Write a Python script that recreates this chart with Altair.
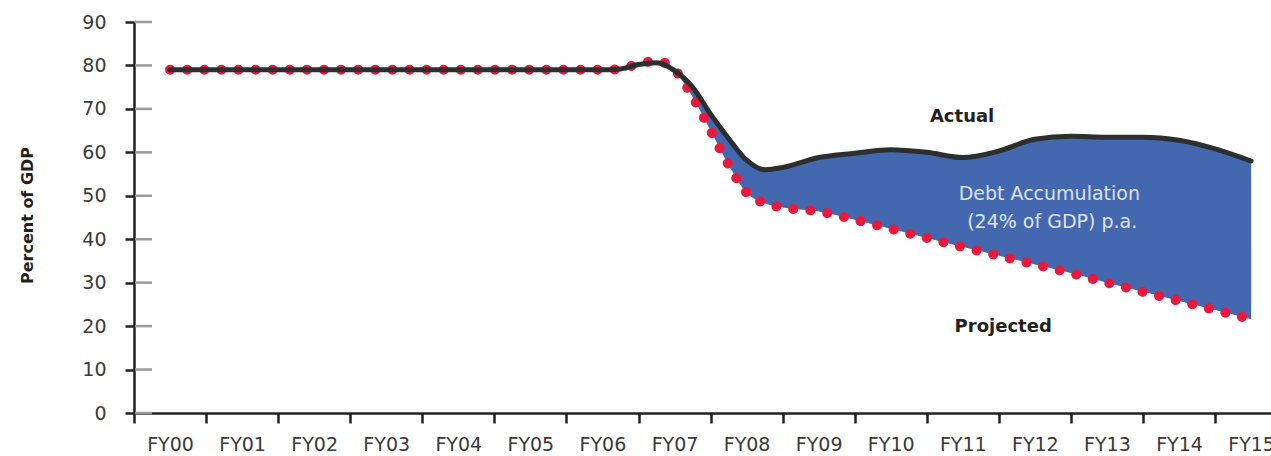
import altair as alt
import pandas as pd

years = ["FY00", "FY01", "FY02", "FY03", "FY04", "FY05", "FY06", "FY07",
         "FY08", "FY09", "FY10", "FY11", "FY12", "FY13", "FY14", "FY15"]

t = [0, 1, 2, 3, 4, 5, 6, 6.25, 6.5, 6.75, 7, 7.25, 7.5, 7.75, 8, 8.25, 8.5,
     9, 9.5, 10, 10.5, 11, 11.5, 12, 12.5, 13, 13.5, 14, 14.5, 15]
actual = [79, 79, 79, 79, 79, 79, 79, 79.2, 80.2, 80.6, 78.8, 75.0, 68.8, 63.2,
          58.2, 56.0, 56.5, 58.8, 59.8, 60.6, 60.0, 58.8, 60.3, 63.0, 63.7,
          63.5, 63.5, 62.8, 60.8, 58.0]
projected = [79, 79, 79, 79, 79, 79, 79, 79.2, 80.4, 81.0, 79.0, 72.8, 65.0,
             57.1, 50.7, 48.3, 47.3, 46.4, 44.5, 42.4, 40.3, 38.2, 36.2, 34.2,
             32.2, 30.0, 27.9, 25.8, 23.7, 21.6]

y_ticks = [0, 10, 20, 30, 40, 50, 60, 70, 80, 90]

ann_bold_text = ["Actual", "Projected"]
ann_bold_t = [10.99, 11.56]
ann_bold_v = [68.2, 19.8]

ann_light_text = ["Debt Accumulation", "(24% of GDP) p.a."]
ann_light_t = [12.2, 12.24]
ann_light_v = [50.4, 44.0]

df = pd.DataFrame({"t": t, "actual": actual, "projected": projected})
area_df = df[df["t"] >= 7]
bounds = [i - 0.5 for i in range(len(years))]
label_expr = "[" + ",".join("'%s'" % y for y in years) + "][round(datum.value + 0.5)]"

x_scale = alt.Scale(domain=[-0.5, 15.276], nice=False, zero=False)
y_scale = alt.Scale(domain=[0, 90], nice=False, zero=False)

dark = "#231f20"
x_axis = alt.Axis(values=bounds, labelExpr=label_expr, labelOffset=36,
                  tickSize=10, tickWidth=2.5, tickColor=dark,
                  domainColor=dark, domainWidth=2.5,
                  labelFont="DejaVu Sans", labelFontSize=19, labelColor="#3a3a3a",
                  labelPadding=12, labelFlush=False, labelOverlap=False,
                  grid=False, title=None)
y_axis = alt.Axis(values=y_ticks, tickSize=9, tickWidth=2.5, tickColor=dark,
                  domainColor=dark, domainWidth=2.5,
                  labelFont="DejaVu Sans", labelFontSize=19, labelColor="#3a3a3a",
                  labelPadding=19, grid=False,
                  title="Percent of GDP", titleFont="DejaVu Sans",
                  titleFontWeight="bold", titleFontSize=16, titleColor=dark,
                  titleX=-107, titleY=193, titleAngle=270,
                  titleAlign="center", titleBaseline="middle")

X = alt.X("t:Q", scale=x_scale, axis=x_axis)

rules = alt.Chart(pd.DataFrame({"v": y_ticks})).mark_rule(
    color="#9a9a9a", strokeWidth=2.5
).encode(y=alt.Y("v:Q", scale=y_scale, axis=y_axis), x=alt.value(1), x2=alt.value(18))

area = alt.Chart(area_df).mark_area(color="#4468b0", opacity=1, interpolate="monotone").encode(
    x=X, y=alt.Y("actual:Q", scale=y_scale, axis=y_axis), y2="projected:Q"
)

red = alt.Chart(df).mark_line(
    color="#e8193c", strokeWidth=10, strokeDash=[0.1, 17], strokeCap="round",
    interpolate="monotone"
).encode(x=X, y=alt.Y("projected:Q", scale=y_scale, axis=y_axis))

black = alt.Chart(df).mark_line(
    color="#2d2f2e", strokeWidth=5, strokeCap="round", interpolate="monotone"
).encode(x=X, y=alt.Y("actual:Q", scale=y_scale, axis=y_axis))

bold_txt = alt.Chart(pd.DataFrame({"t": ann_bold_t, "v": ann_bold_v, "s": ann_bold_text})).mark_text(
    font="DejaVu Sans", fontWeight="bold", fontSize=18, color=dark,
    align="center", baseline="middle"
).encode(x=X, y=alt.Y("v:Q", scale=y_scale, axis=y_axis), text="s:N")

light_txt = alt.Chart(pd.DataFrame({"t": ann_light_t, "v": ann_light_v, "s": ann_light_text})).mark_text(
    font="DejaVu Sans", fontSize=19, color="#dde3f1",
    align="center", baseline="middle"
).encode(x=X, y=alt.Y("v:Q", scale=y_scale, axis=y_axis), text="s:N")

chart = alt.layer(rules, area, red, black, bold_txt, light_txt).properties(
    width=1137, height=391,
    autosize=alt.AutoSizeParams(type="none"),
    padding={"left": 134, "top": 22, "right": 0, "bottom": 43},
).configure_view(strokeWidth=0)

chart.save("out.html", embed_options={"renderer": "svg", "actions": False})
